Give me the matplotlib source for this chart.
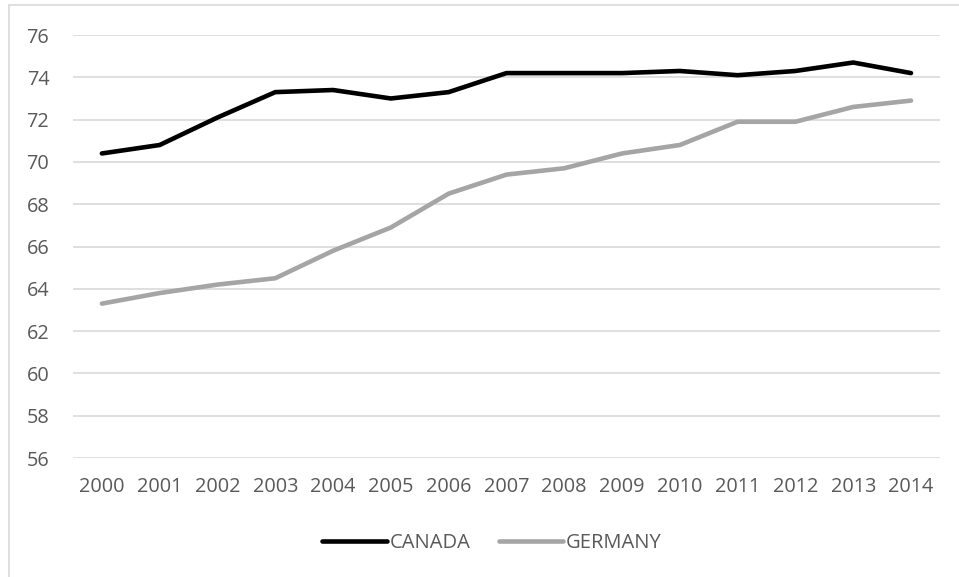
import matplotlib.pyplot as plt
from matplotlib.patches import Rectangle

# Data
years = ['2000', '2001', '2002', '2003', '2004', '2005', '2006', '2007',
         '2008', '2009', '2010', '2011', '2012', '2013', '2014']
canada = [70.4, 70.8, 72.1, 73.3, 73.4, 73.0, 73.3, 74.2,
          74.2, 74.2, 74.3, 74.1, 74.3, 74.7, 74.2]
germany = [63.3, 63.8, 64.2, 64.5, 65.8, 66.9, 68.5, 69.4,
           69.7, 70.4, 70.8, 71.9, 71.9, 72.6, 72.9]
y_ticks = [56, 58, 60, 62, 64, 66, 68, 70, 72, 74, 76]

plt.rcParams['font.family'] = ['Open Sans', 'DejaVu Sans']
text_color = '#595959'

fig = plt.figure(figsize=(9.59, 5.77), dpi=100)
ax = fig.add_axes([0.0761, 0.2062, 0.904, 0.7331])

x = range(len(years))
ax.plot(x, canada, color='black', linewidth=3.3, solid_capstyle='round',
        solid_joinstyle='round', label='CANADA', zorder=3)
ax.plot(x, germany, color='#a5a5a5', linewidth=3.3, solid_capstyle='round',
        solid_joinstyle='round', label='GERMANY', zorder=3)

ax.set_xlim(-0.5, len(years) - 0.5)
ax.set_ylim(56, 76)
ax.set_yticks(y_ticks)
ax.set_xticks(list(x))
ax.set_xticklabels(years)
ax.grid(axis='y', color='#d9d9d9', linewidth=1.2, zorder=0)
ax.tick_params(axis='both', length=0, labelsize=14.3, labelcolor=text_color)
ax.tick_params(axis='y', pad=17)
ax.tick_params(axis='x', pad=14)
for s in ax.spines.values():
    s.set_visible(False)

fig.legend(loc='center', bbox_to_anchor=(0.513, 0.059), ncol=2, frameon=False,
           fontsize=14.5, labelcolor=text_color, handlelength=3.2,
           handletextpad=0.15, columnspacing=1.4)

# chart-area border
fig.patches.append(Rectangle((0.0094, -0.05), 1.2, 1.0405, transform=fig.transFigure,
                             fill=False, edgecolor='#d9d9d9', linewidth=1.2))

fig.savefig('out.png', dpi=100)
